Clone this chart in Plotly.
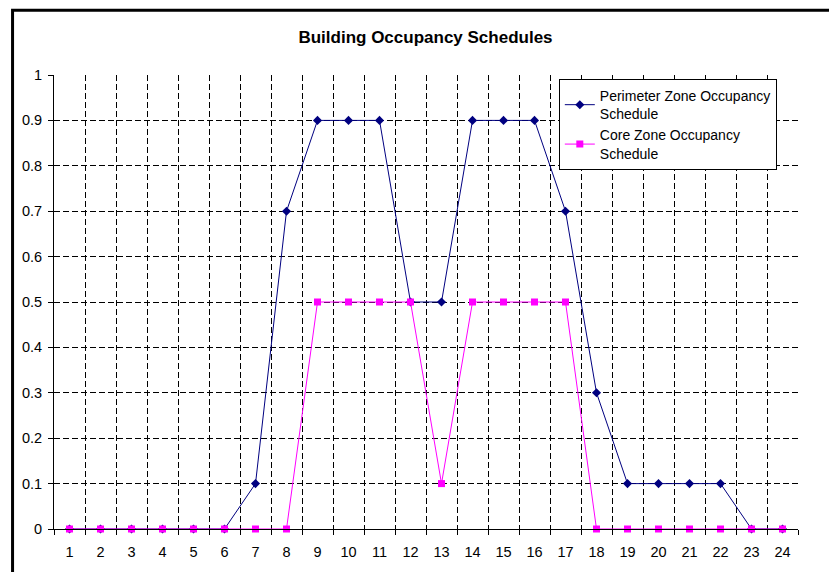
import plotly.graph_objects as go

hours = list(range(1, 25))
perimeter = [0, 0, 0, 0, 0, 0, 0.1, 0.7, 0.9, 0.9, 0.9, 0.5, 0.5, 0.9, 0.9, 0.9, 0.7, 0.3, 0.1, 0.1, 0.1, 0.1, 0, 0]
core = [0, 0, 0, 0, 0, 0, 0, 0, 0.5, 0.5, 0.5, 0.5, 0.1, 0.5, 0.5, 0.5, 0.5, 0, 0, 0, 0, 0, 0, 0]
y_ticks = [0, 0.1, 0.2, 0.3, 0.4, 0.5, 0.6, 0.7, 0.8, 0.9, 1]
y_labels = ["0", "0.1", "0.2", "0.3", "0.4", "0.5", "0.6", "0.7", "0.8", "0.9", "1"]

W, H = 829, 572
L, R, T, B = 53.5, 798.5, 75, 531

fig = go.Figure()
fig.add_trace(go.Scatter(
    x=hours, y=perimeter, mode="lines+markers",
    name="Perimeter Zone Occupancy<br>Schedule",
    line=dict(color="#000080", width=1),
    marker=dict(symbol="diamond", size=7, color="#000080"),
    cliponaxis=False,
))
fig.add_trace(go.Scatter(
    x=hours, y=core, mode="lines+markers",
    name="Core Zone Occupancy<br>Schedule",
    line=dict(color="#FF00FF", width=1),
    marker=dict(symbol="square", size=7, color="#FF00FF"),
    cliponaxis=False,
))

pw = R - L
ph = B - T
def px2x(p):
    return (p - L) / pw
def py2y(p):
    return (B - p) / ph

fig.update_layout(
    width=W, height=H,
    margin=dict(l=L, r=W - R, t=T, b=H - B, pad=0),
    paper_bgcolor="white", plot_bgcolor="white",
    font=dict(family="Liberation Sans, Arial, sans-serif", size=14.5, color="black"),
    title=dict(text="<b>Building Occupancy Schedules</b>", x=425.5 / W,
               xanchor="center", y=1 - 37 / H, yanchor="middle",
               font=dict(size=17, color="black")),
    showlegend=True,
    legend=dict(
        x=px2x(559), y=py2y(79), xanchor="left", yanchor="top",
        bgcolor="white", bordercolor="black", borderwidth=1,
        font=dict(size=14, color="black"),
        tracegroupgap=0,
    ),
    xaxis=dict(
        range=[0.5, 24.5], tickmode="array", tickvals=hours,
        ticktext=[str(h) for h in hours], ticks="", showgrid=False,
        showline=True, linecolor="black", linewidth=1, zeroline=False,
        ticklabelstandoff=10,
        minor=dict(tickmode="linear", tick0=0.5, dtick=1, ticks="outside",
                   ticklen=5, tickcolor="black", showgrid=True,
                   gridcolor="black", gridwidth=1, griddash="6px,3px"),
    ),
    yaxis=dict(
        range=[0, 1], tickmode="array", tickvals=y_ticks, ticktext=y_labels,
        ticks="outside", ticklen=5, tickcolor="black",
        showgrid=True, gridcolor="black", gridwidth=1, griddash="6px,3px",
        showline=True, linecolor="black", linewidth=1, zeroline=False,
        ticklabelstandoff=3,
    ),
    shapes=[dict(
        type="rect", xref="paper", yref="paper",
        x0=px2x(12), x1=px2x(W + 20), y0=py2y(H + 20), y1=py2y(10),
        line=dict(color="black", width=3), fillcolor="rgba(0,0,0,0)", layer="above",
    )],
)

fig.write_html("out.html", config={"displayModeBar": False},
               post_script="document.body.style.margin='0';document.body.style.overflow='hidden';")
